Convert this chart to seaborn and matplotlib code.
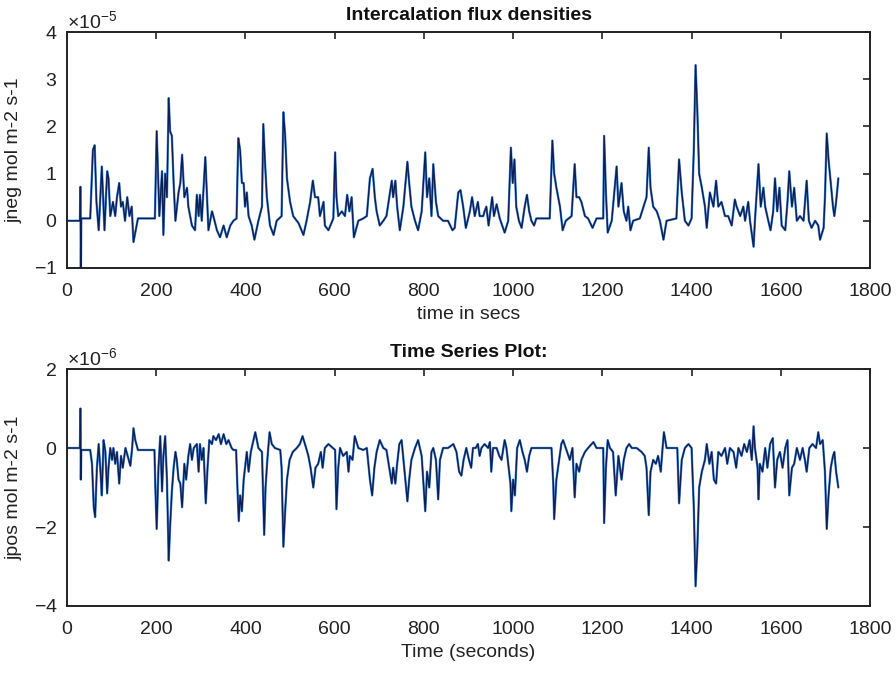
import numpy as np
import pandas as pd
import matplotlib
matplotlib.use("Agg")
import matplotlib.pyplot as plt
from matplotlib.ticker import ScalarFormatter
import seaborn as sns

# ---------------- data ----------------
# top panel: jneg, in units of 1e-5 mol m-2 s-1
jneg_t = [0, 29, 30, 31, 32, 34, 52, 58, 62, 66, 71, 78, 84, 90, 93, 97, 103, 108, 112, 117, 121, 125, 130, 135, 140, 145, 149, 159,
          197, 201, 207, 213, 216, 220, 224, 228, 231, 235, 239, 243, 250, 254, 258, 263, 269, 272, 280, 287,
          291, 295, 298, 302, 310, 313, 317, 325, 328, 336, 343, 351, 358, 366, 373, 380,
          384, 388, 392, 396, 399, 403, 407, 414, 420, 429,
          437, 440, 444, 448, 455, 463, 470, 481, 485, 489,
          493, 500, 507, 519, 530, 537, 545, 551, 556, 563,
          567, 575, 578, 586, 597, 601, 604, 608, 616, 623,
          628, 633, 638, 643, 653, 664, 672, 679, 685, 690,
          694, 701, 709, 716, 728, 731, 736, 740, 746, 754,
          763, 767, 772, 780, 787, 795, 803, 807, 812, 817,
          821, 827, 832, 843, 854, 864, 869, 877, 882, 888,
          894, 903, 908, 914, 921, 925, 933, 936, 940, 945,
          953, 957, 963, 970, 981, 989, 995, 999, 1003, 1007,
          1013, 1019, 1026, 1031, 1036, 1041, 1047, 1052, 1082, 1088,
          1092, 1097, 1105, 1111, 1118, 1131, 1138, 1142, 1148, 1153,
          1161, 1168, 1178, 1187, 1202, 1204, 1208, 1212, 1221, 1232,
          1236, 1243, 1248, 1254, 1258, 1263, 1269, 1284, 1294, 1299,
          1304, 1308, 1314, 1322, 1329, 1337, 1344, 1366, 1372, 1378,
          1385, 1393, 1400, 1405, 1409, 1413, 1417, 1423, 1430, 1434,
          1441, 1449, 1455, 1460, 1467, 1475, 1482, 1490, 1497, 1501,
          1509, 1516, 1520, 1527, 1531, 1539, 1542, 1550, 1555, 1561,
          1565, 1572, 1577, 1583, 1587, 1592, 1597, 1602, 1610, 1615,
          1619, 1625, 1630, 1636, 1643, 1651, 1658, 1663, 1669, 1677,
          1684, 1688, 1696, 1699, 1703, 1707, 1712, 1717, 1720, 1724,
          1729]
jneg_v = [0.0, 0.0, 0.72, -1.05, 0.05, 0.05, 0.05, 1.5, 1.6, 0.4, -0.2, 1.15, -0.2, 1.05, 0.9, 0.1, 0.4, 0.1, 0.5, 0.8, 0.3, 0.4, 0.0, 0.5, 0.1, 0.3, -0.45, 0.05,
          0.05, 1.9, 0.1, 1.05, -0.3, 1.0, 0.5, 2.6, 1.9, 1.8, 0.8, 0.0, 0.6, 0.8, 1.4, 0.5, 0.7, 0.3, -0.1, -0.2,
          0.55, 0.1, 0.55, 0.0, 1.35, 0.7, -0.2, 0.2, 0.1, -0.2, -0.35, -0.1, -0.35, -0.1, 0.0, 0.05,
          1.75, 1.5, 0.8, 0.8, 0.3, 0.6, 0.1, -0.1, -0.4, 0.0,
          0.3, 2.05, 1.2, 0.5, -0.1, -0.3, 0.0, 0.1, 2.3, 1.8,
          0.9, 0.4, 0.1, -0.05, -0.3, 0.0, 0.4, 0.85, 0.5, 0.5,
          0.1, 0.4, -0.1, -0.2, 0.05, 1.45, 0.5, 0.1, 0.2, 0.1,
          0.55, 0.2, 0.5, -0.35, 0.0, 0.05, 0.1, 0.9, 1.1, 0.5,
          0.2, -0.1, 0.0, 0.1, 0.85, 0.5, 0.85, 0.3, -0.2, 0.3,
          1.25, 0.8, 0.3, 0.0, -0.2, 0.2, 1.45, 0.5, 0.9, 0.1,
          1.2, 0.4, 0.1, 0.0, 0.0, -0.2, -0.15, 0.6, 0.65, 0.3,
          -0.15, 0.2, 0.5, 0.1, 0.4, 0.1, 0.1, 0.2, 0.3, -0.1,
          0.5, 0.1, 0.35, 0.05, -0.25, 0.0, 1.55, 0.8, 1.3, 0.3,
          0.0, -0.15, 0.3, 0.55, 0.2, 0.0, -0.1, 0.05, 0.05, 1.7,
          1.0, 0.7, 0.3, -0.2, 0.0, 0.1, 1.2, 0.5, 0.5, 0.4,
          0.1, 0.05, -0.15, 0.05, 0.05, 1.8, 0.6, -0.25, 0.0, 1.15,
          0.3, 0.8, 0.2, 0.0, 0.3, -0.2, 0.0, 0.05, 0.35, 0.5,
          1.55, 0.7, 0.3, 0.2, 0.0, -0.4, 0.0, 0.05, 1.3, 0.6,
          0.0, -0.1, 0.05, 1.5, 3.3, 2.3, 1.0, 0.7, 0.3, -0.15,
          0.6, 0.3, 0.85, 0.3, 0.4, 0.1, 0.1, -0.1, 0.45, 0.3,
          0.1, 0.3, 0.0, 0.4, 0.0, -0.55, 0.0, 1.2, 0.3, 0.7,
          0.3, 0.0, -0.2, 0.2, 0.9, 0.2, 0.7, -0.1, -0.2, 0.4,
          1.05, 0.3, 0.7, 0.0, 0.1, 0.0, 0.85, 0.0, -0.15, 0.0,
          -0.1, -0.4, -0.15, 0.5, 1.85, 1.3, 0.8, 0.3, 0.1, 0.4,
          0.9]

# bottom panel: jpos, in units of 1e-6 mol m-2 s-1
jpos_t = [0, 29, 30, 31, 32, 34, 52,
          56, 60, 63, 67, 71, 75, 78, 82, 86, 90,
          93, 97, 101, 104, 108, 112, 117, 121, 125, 131,
          136, 142, 146, 149, 153, 159,
          196, 198, 201, 205, 209, 213, 216, 220, 224, 228,
          231, 235, 239, 243, 246, 250, 254, 258, 263, 267,
          272, 276, 280, 284, 291, 295, 298, 302, 306, 311,
          315, 319, 325, 328, 334, 340, 345, 351, 357, 362,
          369, 373, 379,
          382, 385, 388, 392, 396, 399, 403, 407, 412, 422,
          429, 437, 442, 445, 449, 454, 459, 466, 478, 481,
          485, 489, 493, 499, 506, 515, 522, 528, 536, 541,
          546, 552, 557, 563, 569, 573, 578, 586, 596, 601,
          604, 608, 612, 619, 627, 631, 634, 640, 645, 653,
          664, 672, 679, 684, 689, 694, 701, 709, 716, 728,
          731, 736, 740, 745, 750, 755, 763, 767, 772, 780,
          787, 795, 803, 807, 812, 817, 821, 827, 832, 836,
          843, 854, 866, 873, 879, 884, 889, 895, 901, 906,
          910, 916, 921, 925, 929, 936, 944, 948, 951, 955,
          963, 969, 974, 981, 985, 989, 994, 996, 1000, 1004,
          1009, 1015, 1021, 1026, 1031, 1036, 1041, 1052, 1086, 1090,
          1092, 1097, 1103, 1108, 1112, 1118, 1127, 1133, 1138, 1142,
          1148, 1153, 1161, 1168, 1176, 1180, 1187, 1202, 1204, 1208,
          1212, 1217, 1224, 1230, 1236, 1243, 1248, 1254, 1260, 1266,
          1277, 1288, 1295, 1299, 1304, 1308, 1314, 1320, 1325, 1331,
          1335, 1338, 1344, 1368, 1372, 1378, 1385, 1393, 1400, 1405,
          1409, 1413, 1417, 1423, 1430, 1434, 1440, 1445, 1450, 1455,
          1460, 1467, 1475, 1480, 1486, 1494, 1500, 1505, 1512, 1518,
          1524, 1530, 1535, 1539, 1542, 1548, 1550, 1553, 1559, 1565,
          1570, 1576, 1582, 1587, 1592, 1598, 1604, 1610, 1615, 1619,
          1625, 1630, 1636, 1643, 1649, 1654, 1658, 1664, 1671, 1679,
          1684, 1688, 1694, 1699, 1703, 1707, 1712, 1717, 1720, 1724,
          1729]
jpos_v = [0.0, 0.0, 1.0, -0.8, -0.05, -0.05, -0.05,
          -0.4, -1.5, -1.75, -0.5, 0.1, -0.6, -1.2, 0.2, -0.1, -1.15,
          -0.5, 0.0, -0.3, 0.0, -0.4, -0.1, -0.9, -0.2, -0.5, 0.0,
          -0.2, -0.45, 0.0, 0.5, 0.2, -0.05,
          -0.05, -1.0, -2.05, -0.5, 0.3, -1.1, -0.2, 0.3, -0.8, -2.85,
          -2.0, -1.1, -0.5, -0.1, -0.3, -0.8, -0.9, -1.5, -0.4, -0.8,
          -0.2, 0.1, -0.3, 0.0, 0.1, -0.6, 0.1, -0.3, 0.0, -1.4,
          -0.5, 0.2, 0.1, 0.3, 0.2, 0.35, 0.1, 0.35, 0.1, 0.2,
          0.0, -0.05, -0.05,
          -1.0, -1.85, -1.2, -1.6, -0.8, -0.5, -0.1, -0.6, -0.1, 0.4,
          0.0, -0.1, -2.2, -1.0, -0.3, 0.4, 0.1, 0.0, -0.05, -0.5,
          -2.5, -1.6, -0.8, -0.3, -0.1, 0.0, 0.1, 0.3, 0.0, -0.2,
          -0.5, -1.0, -0.5, -0.4, -0.1, -0.5, 0.0, 0.1, 0.0, -0.05,
          -1.55, -0.5, 0.0, -0.2, -0.1, -0.6, -0.2, -0.3, 0.3, 0.0,
          -0.05, 0.0, -0.8, -1.2, -0.5, -0.1, 0.2, 0.0, -0.05, -0.9,
          -0.5, -0.9, -0.4, 0.1, 0.2, -0.4, -1.35, -0.8, -0.3, 0.0,
          0.2, -0.2, -1.6, -0.6, -1.0, -0.1, 0.0, -0.3, -1.3, -0.3,
          0.0, 0.0, 0.1, -0.1, -0.6, -0.7, -0.3, 0.0, -0.3, -0.5,
          0.0, 0.0, 0.1, -0.2, 0.0, 0.1, 0.0, 0.15, -0.6, 0.0,
          0.0, -0.2, -0.3, 0.2, 0.0, -0.4, -0.9, -1.6, -0.8, -1.2,
          0.0, 0.2, -0.1, -0.3, -0.6, -0.2, 0.0, 0.0, 0.0, -0.9,
          -1.8, -0.8, -0.3, 0.1, 0.2, 0.0, -0.3, 0.0, -1.25, -0.4,
          -0.6, -0.3, -0.1, 0.0, 0.1, 0.15, 0.0, 0.0, -1.9, -0.5,
          0.2, 0.0, -0.1, -1.2, -0.2, -0.8, -0.3, 0.0, 0.1, 0.0,
          0.0, -0.1, -0.2, -0.5, -1.7, -0.6, -0.3, -0.4, -0.2, -0.6,
          0.0, 0.4, 0.0, 0.0, -1.4, -0.3, 0.0, 0.1, 0.0, -1.5,
          -3.5, -2.5, -1.0, -0.6, -0.3, 0.1, -0.4, -0.1, -0.8, -0.9,
          -0.1, -0.2, 0.0, -0.4, 0.0, -0.1, -0.5, 0.0, -0.2, 0.1,
          -0.1, 0.2, -0.3, 0.55, 0.0, -0.5, -1.3, -0.4, -0.6, 0.0,
          -0.5, 0.1, 0.25, -1.0, -0.3, -0.1, -0.5, 0.0, 0.2, -1.2,
          -0.5, -0.4, 0.0, -0.3, 0.0, -0.3, -0.6, 0.0, 0.1, 0.0,
          0.4, 0.1, 0.2, -0.6, -2.05, -1.2, -0.5, -0.2, -0.1, -0.6,
          -1.0]

assert len(jneg_t) == len(jneg_v), (len(jneg_t), len(jneg_v))
assert len(jpos_t) == len(jpos_v), (len(jpos_t), len(jpos_v))

x_ticks = [0, 200, 400, 600, 800, 1000, 1200, 1400, 1600, 1800]
top_yticks = [-1, 0, 1, 2, 3, 4]
bot_yticks = [-4, -2, 0, 2]

# ---------------- styling ----------------
sns.set_style("white")
plt.rcParams['font.family'] = ['Liberation Sans', 'DejaVu Sans']
plt.rcParams['axes.unicode_minus'] = False
plt.rcParams['mathtext.fontset'] = 'custom'
plt.rcParams['mathtext.rm'] = 'Liberation Sans'

df_top = pd.DataFrame({"t": jneg_t, "j": np.array(jneg_v) * 1e-5})
df_bot = pd.DataFrame({"t": jpos_t, "j": np.array(jpos_v) * 1e-6})

fig = plt.figure(figsize=(8.96, 6.74), dpi=100)
ax1 = fig.add_axes([0.0748, 0.6024, 0.8962, 0.3501])
ax2 = fig.add_axes([0.0748, 0.1009, 0.8962, 0.3516])

light = "#4f8fda"
dark = "#0b1f55"

def draw(ax, df, yticks, scale, title, xlabel, ylabel):
    sns.lineplot(data=df, x="t", y="j", ax=ax, color=light, linewidth=1.7,
                 estimator=None, sort=False)
    sns.lineplot(data=df, x="t", y="j", ax=ax, color=dark, linewidth=1.0,
                 estimator=None, sort=False)
    ax.set_xlim(0, 1800)
    ax.set_ylim(yticks[0] * scale, yticks[-1] * scale)
    ax.set_xticks(x_ticks)
    ax.set_yticks([v * scale for v in yticks])
    fmt = ScalarFormatter(useMathText=True)
    fmt.set_powerlimits((0, 0))
    ax.yaxis.set_major_formatter(fmt)
    ax.yaxis.get_offset_text().set_fontsize(14)
    ax.yaxis.get_offset_text().set_color("#222222")
    ax.tick_params(direction="in", length=5, width=1.2, top=True, right=True,
                   labelsize=14, colors="#222222")
    ax.tick_params(axis="x", pad=11)
    ax.tick_params(axis="y", pad=7)
    for s in ax.spines.values():
        s.set_linewidth(1.4)
        s.set_color("#222222")
    ax.set_title(title, fontsize=14, fontweight="bold", pad=9, color="#111111")
    ax.set_xlabel(xlabel, fontsize=14, labelpad=4, color="#222222")
    ax.set_ylabel(ylabel, fontsize=14, labelpad=8, color="#222222")

draw(ax1, df_top, top_yticks, 1e-5, "Intercalation flux densities", "time in secs", "jneg mol m-2 s-1")
draw(ax2, df_bot, bot_yticks, 1e-6, "Time Series Plot:", "Time (seconds)", "jpos mol m-2 s-1")

fig.savefig("out.png", dpi=100, facecolor="white")
